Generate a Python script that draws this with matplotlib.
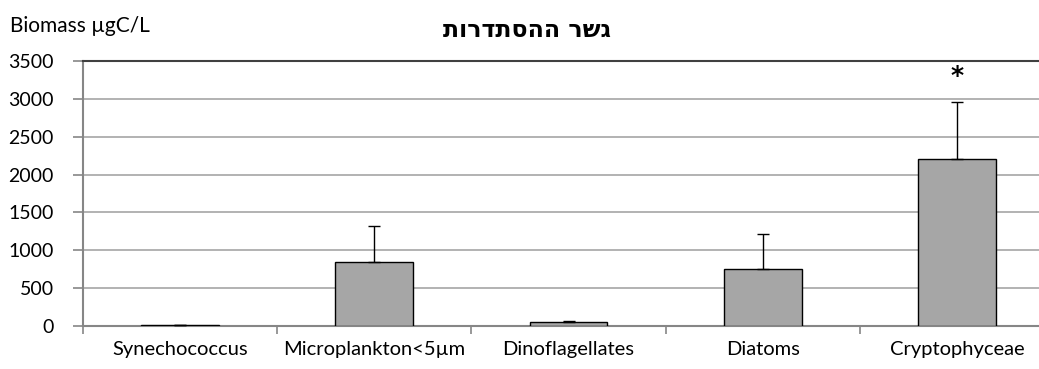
import matplotlib
matplotlib.use("Agg")
import matplotlib.pyplot as plt
import numpy as np

categories = ["Synechococcus", "Microplankton<5µm", "Dinoflagellates", "Diatoms", "Cryptophyceae"]
biomass = [15, 850, 52, 752, 2200]
errors = [0, 470, 18, 465, 760]
yticks = [0, 500, 1000, 1500, 2000, 2500, 3000, 3500]
title = "גשר ההסתדרות"
ylabel = "Biomass µgC/L"
significant = [False, False, False, False, True]

plt.rcParams["font.family"] = ["Lato", "DejaVu Sans"]

W, H = 1039, 369
fig = plt.figure(figsize=(W / 100, H / 100), dpi=100)
left, right, top, bottom = 83, 1054, 61, 326
ax = fig.add_axes([left / W, 1 - bottom / H, (right - left) / W, (bottom - top) / H])

x = np.arange(len(categories))
ax.bar(x, biomass, width=0.4, color="#a6a6a6", edgecolor="black", linewidth=1.0, zorder=3)
ax.errorbar(x, biomass, yerr=[np.zeros(len(errors)), errors], fmt="none",
            ecolor="black", elinewidth=1.0, capsize=4, capthick=1.0, zorder=4)

for xi, v, e, s in zip(x, biomass, errors, significant):
    if s:
        ax.text(xi, 3300, "*", ha="center", va="center", fontsize=18, fontweight="bold",
                family="DejaVu Sans")

ax.set_xlim(-0.5, len(categories) - 0.5)
ax.set_ylim(0, 3500)
ax.set_yticks(yticks)
ax.set_yticklabels([str(t) for t in yticks], fontsize=14)
ax.yaxis.grid(True, color="#a6a6a6", linewidth=1.2, zorder=0)
ax.set_axisbelow(True)

ax.set_xticks(x)
ax.set_xticklabels(categories, fontsize=14.5)
ax.tick_params(axis="x", which="major", length=0, pad=11)
ax.set_xticks(np.arange(-0.5, len(categories) + 0.5, 1), minor=True)
ax.tick_params(axis="x", which="minor", length=6, color="#868686", width=1.2)
ax.tick_params(axis="y", length=7, color="#868686", width=1.2, pad=14)

for s in ["left", "bottom"]:
    ax.spines[s].set_color("#868686")
    ax.spines[s].set_linewidth(1.5)
ax.spines["right"].set_visible(False)
ax.spines["top"].set_color("#404040")
ax.spines["top"].set_linewidth(1.5)

fig.text(10 / W, 1 - 26 / H, ylabel, ha="left", va="center", fontsize=15)
fig.text(527 / W, 1 - 30 / H, title[::-1], ha="center", va="center", fontsize=17,
         fontweight="bold", family=["DejaVu Sans"])

fig.savefig("out.png", dpi=100)
